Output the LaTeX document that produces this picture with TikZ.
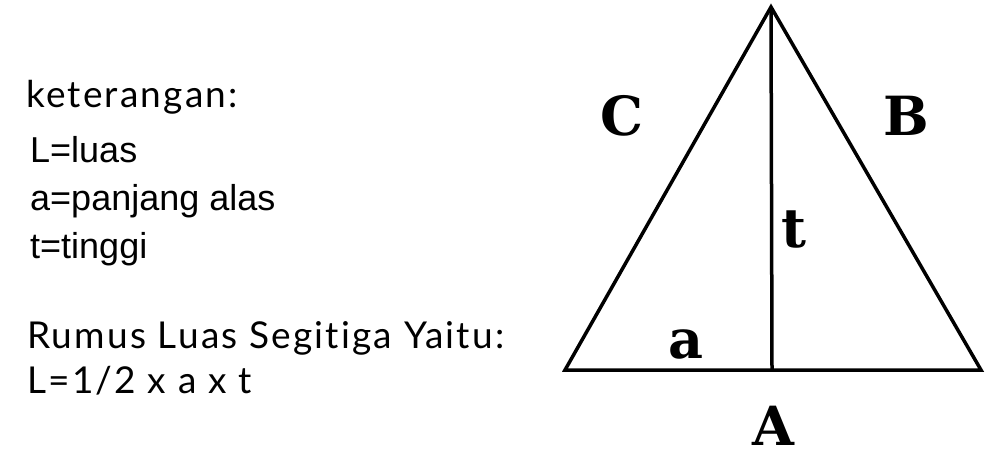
\documentclass[tikz,border=0pt]{standalone}
\usepackage{fontspec}
\setmainfont{Liberation Sans}
\newfontfamily\labfont[Ligatures=NoCommon,LetterSpace=6]{Lato}
\newfontfamily\slabfont{DejaVu Serif}
\begin{document}
\begin{tikzpicture}[x=1pt,y=-1pt,
  side/.style={line width=3.5pt,line join=miter,line cap=butt},
  letter/.style={font=\slabfont\bfseries\fontsize{54}{60}\selectfont,inner sep=0pt},
  heading/.style={font=\labfont\fontsize{37}{40}\selectfont,anchor=base west,inner sep=0pt},
  item/.style={font=\fontsize{36}{40}\selectfont,anchor=base west,inner sep=0pt}]
\useasboundingbox (0,0) rectangle (1000,461);
\coordinate (top) at (771,7);
\coordinate (bl) at (565,370);
\coordinate (br) at (981,370);
\coordinate (foot) at (772,370);
\draw[side] (bl) -- (top) -- (br) -- cycle;
\draw[side] (top) -- (foot);
\node[letter] (C) at (622,116) {C};
\node[letter] (B) at (906,116) {B};
\node[letter] (t) at (794,230) {t};
\node[letter] (a) at (686,344) {a};
\node[letter] (A) at (773,426) {A};
\node[heading] (ket) at (26,107) {keterangan:};
\node[item] (l1) at (30,162) {L=luas};
\node[item] (l2) at (30,210) {a=panjang alas};
\node[item] (l3) at (30,258) {t=tinggi};
\node[heading] (rum) at (27,348) {Rumus Luas Segitiga Yaitu:};
\node[heading] (form) at (27,393) {L=1/2 x a x t};
\end{tikzpicture}
\end{document}
